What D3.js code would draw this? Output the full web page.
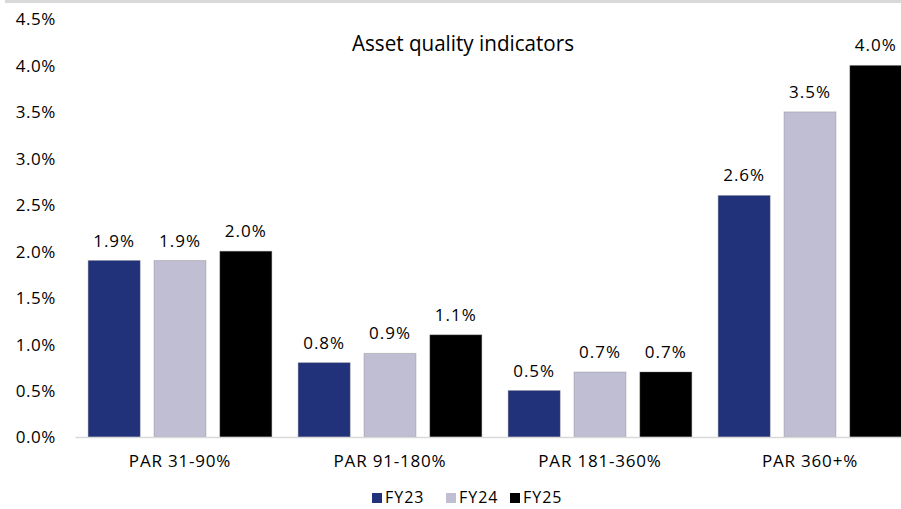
<!DOCTYPE html>
<html>
<head>
<meta charset="utf-8">
<script src="https://cdn.jsdelivr.net/npm/d3@7"></script>
<style>
  body { margin: 0; background: #fff; }
  text { font-family: "Open Sans", "Noto Sans", sans-serif; fill: #000; }
</style>
</head>
<body>
<script>
var width = 901,
  height = 509;

const categories = ["PAR 31-90%", "PAR 91-180%", "PAR 181-360%", "PAR 360+%"];
const seriesNames = ["FY23", "FY24", "FY25"];
const fy23 = [1.9, 0.8, 0.5, 2.6];
const fy24 = [1.9, 0.9, 0.7, 3.5];
const fy25 = [2.0, 1.1, 0.7, 4.0];
const yTicks = [0, 0.5, 1, 1.5, 2, 2.5, 3, 3.5, 4, 4.5];
const colors = ["#21317a", "#bfbed3", "#000000"];

const series = [fy23, fy24, fy25];

const svg = d3
  .select("body")
  .append("svg")
  .attr("width", width)
  .attr("height", height);

// grey strip cut off at the top
svg.append("rect")
  .attr("x", 5).attr("y", 0)
  .attr("width", width - 5).attr("height", 3)
  .attr("fill", "#d9d9d9");

const x = d3.scaleBand().domain(categories).range([75, 915]);
const xs = d3.scaleBand().domain(seriesNames).range([0, x.bandwidth()]).paddingInner(0.21).paddingOuter(0.2);
const y = d3.scaleLinear().domain([0, 4.5]).range([437, 19]);

// y axis labels
const yAxis = svg.append("g")
  .attr("transform", "translate(56,0)")
  .call(d3.axisLeft(y).tickValues(yTicks).tickFormat(d => d.toFixed(1) + "%").tickSize(0).tickPadding(0));
yAxis.select(".domain").remove();
yAxis.selectAll("text").style("font-size", "17px").style("letter-spacing", "0.6px").attr("dy", "0.35em")
  .style("font-family", '"Open Sans", sans-serif');

// bars
const groups = svg.append("g").selectAll("g")
  .data(categories)
  .join("g")
  .attr("transform", d => `translate(${x(d)},0)`);

groups.selectAll("rect")
  .data((d, i) => seriesNames.map((s, j) => ({ s: s, v: series[j][i], c: colors[j] })))
  .join("rect")
  .attr("x", d => xs(d.s))
  .attr("width", xs.bandwidth())
  .attr("y", d => y(d.v))
  .attr("height", d => y(0) - y(d.v))
  .attr("fill", d => d.c)
  .attr("stroke", "#7f7f7f")
  .attr("stroke-opacity", 0.35)
  .attr("stroke-width", 1);

groups.selectAll("text.val")
  .data((d, i) => seriesNames.map((s, j) => ({ s: s, v: series[j][i] })))
  .join("text")
  .attr("class", "val")
  .attr("x", d => xs(d.s) + xs.bandwidth() / 2)
  .attr("y", d => y(d.v) - 14)
  .attr("text-anchor", "middle")
  .style("font-size", "17px")
  .style("letter-spacing", "1px")
  .text(d => d.v.toFixed(1) + "%");

// x axis
const xAxis = svg.append("g")
  .attr("transform", "translate(0,437)")
  .call(d3.axisBottom(x).tickSize(0).tickPadding(18));
xAxis.select(".domain").attr("stroke", "#d9d9d9").attr("stroke-width", 1.5);
xAxis.selectAll("text").style("font-size", "17px").style("letter-spacing", "0.8px")
  .style("font-family", '"Open Sans", sans-serif');

// title
svg.append("text")
  .attr("x", 463)
  .attr("y", 51)
  .attr("text-anchor", "middle")
  .style("font-size", "21px")
  .attr("textLength", 222)
  .attr("lengthAdjust", "spacingAndGlyphs")
  .text("Asset quality indicators");

// legend
const legendX = [372, 446, 510];
const legend = svg.append("g").selectAll("g")
  .data(seriesNames)
  .join("g")
  .attr("transform", (d, i) => `translate(${legendX[i]},503)`);
legend.append("rect")
  .attr("x", 0).attr("y", -10)
  .attr("width", 10).attr("height", 10)
  .attr("fill", (d, i) => colors[i]);
legend.append("text")
  .attr("x", 13)
  .attr("y", 0)
  .style("font-size", "16px")
  .style("letter-spacing", "1px")
  .text(d => d);
</script>
</body>
</html>
